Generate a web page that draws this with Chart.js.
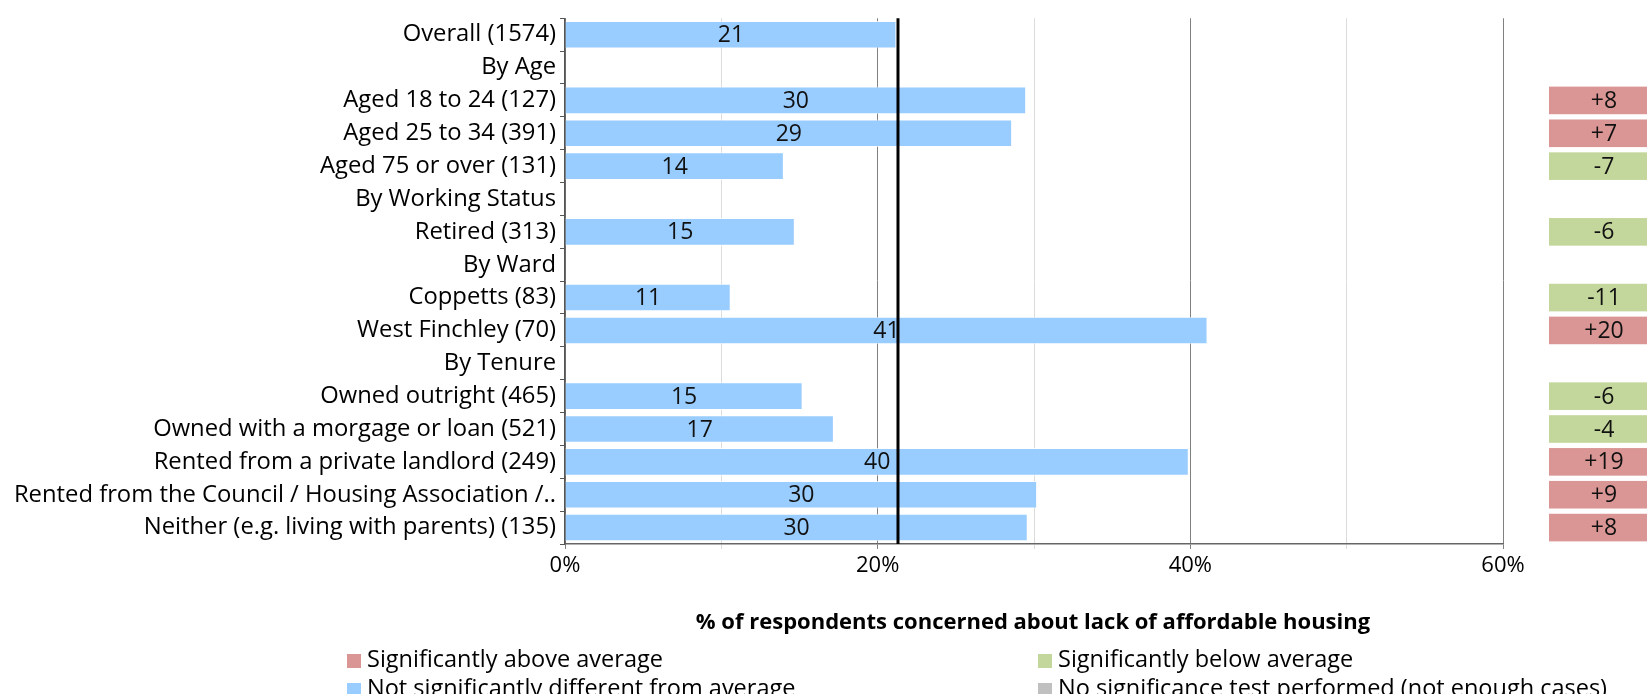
<!DOCTYPE html>
<html>
<head>
<meta charset="utf-8">
<script src="https://cdn.jsdelivr.net/npm/chart.js@4.4.1/dist/chart.umd.min.js"></script>
<style>
  html, body { margin: 0; padding: 0; background: #fff; }
  #wrap { width: 1647px; height: 694px; }
</style>
</head>
<body>
<div id="wrap"><canvas id="housingChart" width="1647" height="694"></canvas></div>
<script>
const categories = [
    'Overall (1574)',
    'By Age',
    'Aged 18 to 24 (127)',
    'Aged 25 to 34 (391)',
    'Aged 75 or over (131)',
    'By Working Status',
    'Retired (313)',
    'By Ward',
    'Coppetts (83)',
    'West Finchley (70)',
    'By Tenure',
    'Owned outright (465)',
    'Owned with a morgage or loan (521)',
    'Rented from a private landlord (249)',
    'Rented from the Council / Housing Association /..',
    'Neither (e.g. living with parents) (135)'
];
// % concerned
const percentConcerned = [21.2, null, 29.5, 28.6, 14.0, null, 14.7, null, 10.6, 41.1, null, 15.2, 17.2, 39.9, 30.2, 29.6];
// difference from overall average (right-hand boxes)
const diffFromAverage = [null, null, 8, 7, -7, null, -6, null, -11, 20, null, -6, -4, 19, 9, 8];
const averageValue = 21.3;
const xTickLabels = [0, 20, 40, 60];
const axisTitle = '% of respondents concerned about lack of affordable housing';
const legendLabels = [
    'Significantly above average',
    'Significantly below average',
    'Not significantly different from average',
    'No significance test performed (not enough cases)'
];

const colAbove = '#D99694';
const colBelow = '#C3D69B';
const colSame = '#99CCFF';
const colNoTest = '#C0C0C0';
const FONT = '"Open Sans", "Noto Sans", sans-serif';

const overlayPlugin = {
    id: 'overlay',
    afterDatasetsDraw(chart) {
        const { ctx, chartArea, scales: { x } } = chart;
        const meta = chart.getDatasetMeta(0);
        ctx.save();
        ctx.font = '23px ' + FONT;
        ctx.textAlign = 'center';
        ctx.textBaseline = 'middle';
        ctx.fillStyle = '#111';
        meta.data.forEach((bar, i) => {
            const v = percentConcerned[i];
            if (v == null) return;
            ctx.fillText(String(Math.round(v)), (bar.x + bar.base) / 2, bar.y + 1);
        });

        // overall average marker
        const ax = x.getPixelForValue(averageValue);
        ctx.strokeStyle = '#000';
        ctx.lineWidth = 3;
        ctx.beginPath();
        ctx.moveTo(ax, chartArea.top);
        ctx.lineTo(ax, chartArea.bottom);
        ctx.stroke();

        // significance boxes on the right
        meta.data.forEach((bar, i) => {
            const d = diffFromAverage[i];
            if (d == null) return;
            const h = bar.height;
            ctx.fillStyle = d > 0 ? colAbove : colBelow;
            ctx.fillRect(1549, bar.y - h / 2, 110, h);
            ctx.fillStyle = '#111';
            ctx.fillText((d > 0 ? '+' : '') + d, 1604, bar.y + 1);
        });
        ctx.restore();
    },
    afterDraw(chart) {
        const ctx = chart.ctx;
        ctx.save();
        ctx.textBaseline = 'middle';
        ctx.fillStyle = '#000';
        ctx.font = 'bold 22px ' + FONT;
        ctx.textAlign = 'center';
        ctx.fillText(axisTitle, 1033, 623);

        ctx.font = '23.5px ' + FONT;
        ctx.textAlign = 'left';
        const cols = [347, 1038];
        const rows = [660, 689];
        const swatches = [colAbove, colBelow, colSame, colNoTest];
        legendLabels.forEach((t, i) => {
            const lx = cols[i % 2];
            const ly = rows[Math.floor(i / 2)];
            ctx.fillStyle = swatches[i];
            ctx.fillRect(lx, ly - 6, 14, 14);
            ctx.fillStyle = '#000';
            ctx.fillText(t, lx + 20, ly);
        });
        ctx.restore();
    }
};

const ctx = document.getElementById('housingChart').getContext('2d');
const housingChart = new Chart(ctx, {
    type: 'bar',
    data: {
        labels: categories,
        datasets: [{
            data: percentConcerned,
            backgroundColor: colSame,
            borderColor: 'rgba(255,255,255,0.7)',
            borderWidth: 1,
            categoryPercentage: 1,
            barPercentage: 0.84
        }]
    },
    options: {
        indexAxis: 'y',
        responsive: false,
        animation: false,
        layout: { padding: { top: 17, right: 144, left: 0, bottom: 0 } },
        scales: {
            x: {
                min: 0,
                max: 60,
                ticks: {
                    stepSize: 10,
                    autoSkip: false,
                    maxRotation: 0,
                    padding: 4,
                    color: '#000',
                    font: { family: FONT, size: 22 },
                    callback: v => xTickLabels.includes(v) ? v + '%' : ''
                },
                grid: {
                    color: c => (c.tick && c.tick.value % 20 === 0) ? '#808080' : '#dcdcdc',
                    tickLength: 5
                },
                border: { color: '#666', width: 1.5 },
                afterFit: s => { s.height = 150; }
            },
            y: {
                grid: { drawOnChartArea: false, offset: true, tickLength: 5, color: '#555' },
                border: { color: '#555', width: 1.5 },
                ticks: { color: '#000', padding: 4, font: { family: FONT, size: 23.8 } },
                afterFit: s => { s.width = 565; }
            }
        },
        plugins: {
            legend: { display: false },
            tooltip: { enabled: false }
        }
    },
    plugins: [overlayPlugin]
});
</script>
</body>
</html>
